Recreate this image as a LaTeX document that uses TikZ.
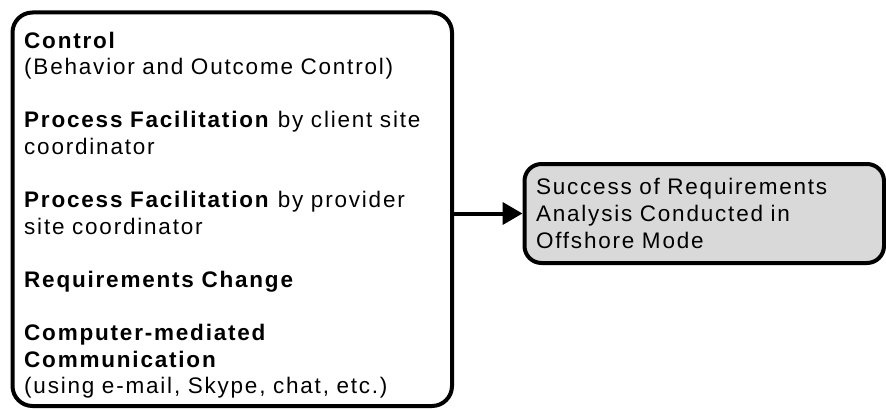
\documentclass[tikz,border=0pt]{standalone}
\usepackage{fontspec}
\setmainfont{Liberation Sans}[LetterSpace=8]
\usetikzlibrary{arrows.meta}
\tikzset{
    txt/.style={font=\fontsize{22.5}{26.6}\selectfont},
    inputbox/.style={draw, line width=4pt, rounded corners=20pt},
    outcomebox/.style={draw, line width=4pt, rounded corners=17pt, fill=gray!30, txt, align=left,
        text width=336.5pt, inner xsep=11.5pt, inner ysep=0pt, minimum height=99pt}
}
\begin{document}
\begin{tikzpicture}[x=1pt,y=-1pt]
        \useasboundingbox (0,0) rectangle (886,409);
        \node[inputbox, minimum width=439.5pt, minimum height=393.5pt] (inputs) at (232.25,209.25) {};
        \node[txt, anchor=north west, inner sep=0pt, align=left, text width=420pt] (inputlist) at (24,31.5)
            {\textbf{Control}\\(Behavior and Outcome Control)\\[26.6pt]
            \textbf{Process Facilitation} by client site\\coordinator\\[26.6pt]
            \textbf{Process Facilitation} by provider\\site coordinator\\[26.6pt]
            \textbf{Requirements Change}\\[26.6pt]
            \textbf{Computer-mediated}\\\textbf{Communication}\\(using e-mail, Skype, chat, etc.)};
        \node[outcomebox] (success) at (704.25,213.5)
            {Success of Requirements\\Analysis Conducted in\\Offshore Mode};

        \draw[line width=4pt, -{Triangle[length=20pt,width=22pt]}] (inputs.east |- success.west) -- (success.west);
    \end{tikzpicture}
\end{document}
